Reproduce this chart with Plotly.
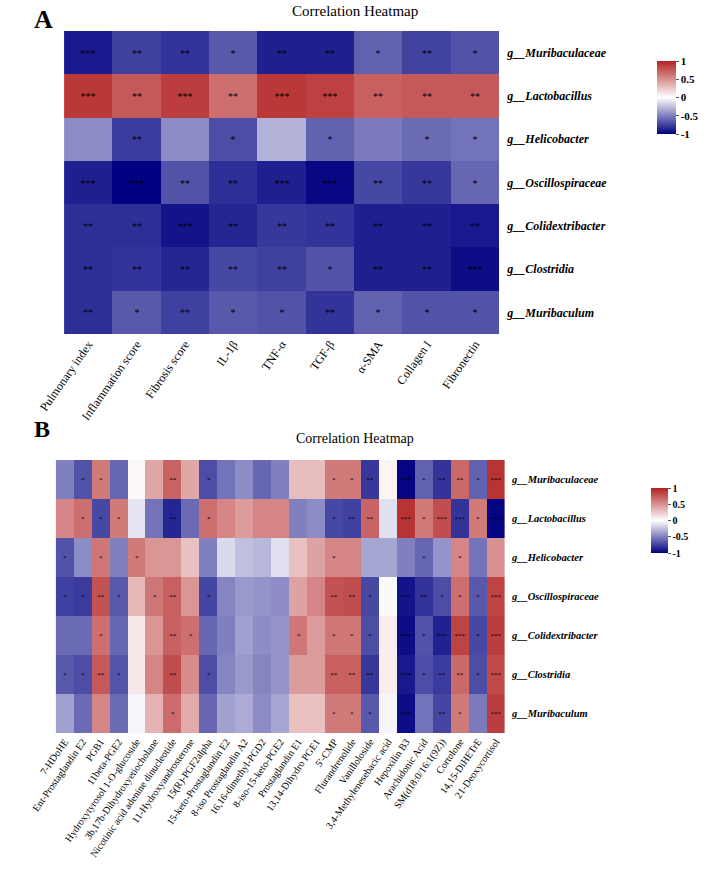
import plotly.graph_objects as go

W, H = 709, 872

ROWS = ["g__Muribaculaceae", "g__Lactobacillus", "g__Helicobacter", "g__Oscillospiraceae",
        "g__Colidextribacter", "g__Clostridia", "g__Muribaculum"]

A_COLS = ["Pulmonary index", "Inflammation score", "Fibrosis score", "IL-1β", "TNF-α",
          "TGF-β", "α-SMA", "Collagen I", "Fibronectin"]

A_VALUES = [
    [-0.90, -0.75, -0.80, -0.65, -0.88, -0.88, -0.62, -0.74, -0.68],
    [0.90, 0.75, 0.88, 0.65, 0.90, 0.86, 0.72, 0.75, 0.75],
    [-0.45, -0.77, -0.45, -0.70, -0.30, -0.62, -0.52, -0.58, -0.55],
    [-0.88, -1.00, -0.68, -0.82, -0.88, -0.97, -0.72, -0.78, -0.60],
    [-0.82, -0.82, -0.92, -0.85, -0.78, -0.80, -0.88, -0.88, -0.90],
    [-0.82, -0.80, -0.85, -0.72, -0.75, -0.68, -0.88, -0.88, -0.95],
    [-0.82, -0.65, -0.75, -0.65, -0.68, -0.80, -0.62, -0.68, -0.68],
]

A_STARS = [
    ["***", "**", "**", "*", "**", "**", "*", "**", "*"],
    ["***", "**", "***", "**", "***", "***", "**", "**", "**"],
    ["", "**", "", "*", "", "*", "", "*", "*"],
    ["***", "***", "**", "**", "***", "***", "**", "**", "*"],
    ["**", "**", "***", "**", "**", "**", "**", "**", "**"],
    ["**", "**", "**", "**", "**", "*", "**", "**", "***"],
    ["**", "*", "**", "*", "*", "**", "*", "*", "*"],
]

B_COLS = ["7-HDoHE", "Ent-Prostaglandin E2", "PGB1", "11beta-PGE2",
          "Hydroxytyrosol 1-O-glucoside", "3b,17b-Dihydroxyetiocholane",
          "Nicotinic acid adenine dinucleotide", "11-Hydroxyandrosterone",
          "15(R)-PGF2alpha", "15-keto-Prostaglandin E2", "8-iso Prostaglandin A2",
          "16,16-dimethyl-PGD2", "8-iso-15-keto-PGE2", "Prostaglandin E1",
          "13,14-Dihydro PGE1", "5'-CMP", "Flurandrenolide", "Vanilloloside",
          "3,4-Methylenesebacic acid", "Hepoxilin B3", "Arachidonic Acid",
          "SM(d18:0/16:1(9Z))", "Cortolone", "14,15-DiHETrE", "21-Deoxycortisol"]

B_VALUES = [
    [-0.50, -0.68, 0.60, -0.60, 0.03, 0.40, 0.70, 0.40, -0.70, -0.55, -0.45, -0.60, -0.50,
     0.30, 0.30, 0.60, 0.60, -0.78, 0.05, -0.98, -0.62, -0.80, 0.68, -0.62, 0.92],
    [0.55, 0.65, -0.72, 0.60, -0.10, -0.55, -0.85, -0.58, 0.65, 0.55, 0.45, 0.55, 0.55,
     -0.50, -0.45, -0.72, -0.75, 0.70, -0.12, 0.92, 0.60, 0.80, -0.80, 0.60, -0.98],
    [-0.68, -0.45, 0.62, -0.50, 0.60, 0.48, 0.48, 0.28, -0.50, -0.15, -0.25, -0.28, -0.12,
     0.28, 0.42, 0.55, 0.55, -0.35, -0.35, -0.50, -0.60, -0.42, 0.55, -0.55, 0.50],
    [-0.75, -0.77, 0.78, -0.65, 0.32, 0.62, 0.72, 0.48, -0.73, -0.48, -0.40, -0.42, -0.45,
     0.42, 0.55, 0.78, 0.80, -0.72, -0.02, -0.92, -0.80, -0.70, 0.65, -0.65, 0.85],
    [-0.58, -0.58, 0.65, -0.60, 0.10, 0.48, 0.72, 0.65, -0.60, -0.50, -0.37, -0.45, -0.42,
     0.62, 0.45, 0.62, 0.62, -0.70, 0.08, -0.95, -0.68, -0.87, 0.85, -0.72, 0.88],
    [-0.65, -0.70, 0.75, -0.67, 0.10, 0.55, 0.80, 0.52, -0.70, -0.48, -0.40, -0.48, -0.42,
     0.45, 0.45, 0.72, 0.72, -0.78, 0.08, -0.90, -0.70, -0.77, 0.68, -0.70, 0.82],
    [-0.37, -0.58, 0.55, -0.58, -0.03, 0.35, 0.67, 0.38, -0.60, -0.37, -0.33, -0.45, -0.35,
     0.28, 0.28, 0.60, 0.60, -0.65, -0.04, -0.95, -0.55, -0.73, 0.60, -0.52, 0.88],
]

B_STARS = [
    ["", "*", "*", "", "", "", "**", "", "*", "", "", "", "", "", "", "*", "*", "**", "", "***", "*", "**", "**", "*", "***"],
    ["", "*", "*", "*", "", "", "**", "", "*", "", "", "", "", "", "", "*", "**", "**", "", "***", "*", "***", "***", "*", "***"],
    ["*", "", "*", "", "*", "", "", "", "", "", "", "", "", "", "", "*", "", "", "", "", "*", "", "*", "", ""],
    ["*", "*", "**", "*", "", "*", "**", "", "*", "", "", "", "", "", "", "**", "**", "*", "", "***", "**", "*", "*", "*", "***"],
    ["", "", "*", "", "", "", "**", "*", "", "", "", "", "", "*", "", "*", "*", "*", "", "***", "*", "***", "***", "*", "***"],
    ["*", "*", "**", "*", "", "", "**", "", "*", "", "", "", "", "", "", "**", "**", "**", "", "***", "*", "**", "**", "*", "***"],
    ["", "", "", "", "", "", "*", "", "", "", "", "", "", "", "", "*", "*", "*", "", "***", "", "**", "*", "", "***"],
]

CB_TICKS = [-1, -0.5, 0, 0.5, 1]
CB_TEXT = ["-1", "-0.5", "0", "0.5", "1"]
TITLE = "Correlation Heatmap"

SERIF = "Liberation Serif, Times New Roman, serif"
CSCALE = [[0.0, "#000080"], [0.5, "#FFFFFF"], [1.0, "#B22222"]]


def px_x(p):
    return p / W


def px_y(p):
    return 1 - p / H


fig = go.Figure()

fig.add_trace(go.Heatmap(
    z=A_VALUES, x=A_COLS, y=ROWS, xaxis="x", yaxis="y",
    zmin=-1, zmax=1, colorscale=CSCALE,
    text=A_STARS, texttemplate="%{text}",
    textfont=dict(size=10, color="black", family=SERIF),
    colorbar=dict(x=px_x(669), xanchor="left", y=px_y(51), yanchor="top",
                  len=93, lenmode="pixels", thickness=19, outlinewidth=0,
                  tickvals=CB_TICKS, ticktext=CB_TEXT, ticks="outside", ticklen=3,
                  tickcolor="#555", tickfont=dict(family=SERIF, size=11, color="black", weight="bold")),
))

fig.add_trace(go.Heatmap(
    z=B_VALUES, x=B_COLS, y=ROWS, xaxis="x2", yaxis="y2",
    zmin=-1, zmax=1, colorscale=CSCALE,
    text=B_STARS, texttemplate="%{text}",
    textfont=dict(size=7, color="black", family=SERIF),
    colorbar=dict(x=px_x(663), xanchor="left", y=px_y(478), yanchor="top",
                  len=85, lenmode="pixels", thickness=17, outlinewidth=0,
                  tickvals=CB_TICKS, ticktext=CB_TEXT, ticks="outside", ticklen=3,
                  tickcolor="#555", tickfont=dict(family=SERIF, size=10, color="black", weight="bold")),
))

axis_common = dict(showgrid=False, zeroline=False, showline=False, ticks="")

fig.update_layout(
    width=W, height=H,
    margin=dict(l=0, r=0, t=0, b=0),
    paper_bgcolor="white", plot_bgcolor="white",
    xaxis=dict(domain=[px_x(41), px_x(510)], anchor="y", tickangle=-55,
               tickfont=dict(family=SERIF, size=12, color="black"), **axis_common),
    yaxis=dict(domain=[px_y(334), px_y(31)], anchor="x", side="right", autorange="reversed",
               ticklabelstandoff=7,
               tickfont=dict(family=SERIF, size=12, color="black", style="italic", weight="bold"),
               **axis_common),
    xaxis2=dict(domain=[px_x(32), px_x(516)], anchor="y2", tickangle=-55,
                tickfont=dict(family=SERIF, size=10, color="black"), **axis_common),
    yaxis2=dict(domain=[px_y(733), px_y(460)], anchor="x2", side="right", autorange="reversed",
                ticklabelstandoff=6,
                tickfont=dict(family=SERIF, size=10.5, color="black", style="italic", weight="bold"),
                **axis_common),
    annotations=[
        dict(text=TITLE, x=px_x(355), y=px_y(11), xref="paper", yref="paper",
             xanchor="center", yanchor="middle", showarrow=False,
             font=dict(family=SERIF, size=15, color="black")),
        dict(text=TITLE, x=px_x(355), y=px_y(438), xref="paper", yref="paper",
             xanchor="center", yanchor="middle", showarrow=False,
             font=dict(family=SERIF, size=14, color="black")),
        dict(text="A", x=px_x(7), y=px_y(20), xref="paper", yref="paper",
             xanchor="left", yanchor="middle", showarrow=False,
             font=dict(family=SERIF, size=26, color="black", weight="bold")),
        dict(text="B", x=px_x(7), y=px_y(429), xref="paper", yref="paper",
             xanchor="left", yanchor="middle", showarrow=False,
             font=dict(family=SERIF, size=24, color="black", weight="bold")),
    ],
)

fig.write_html("out.html")
